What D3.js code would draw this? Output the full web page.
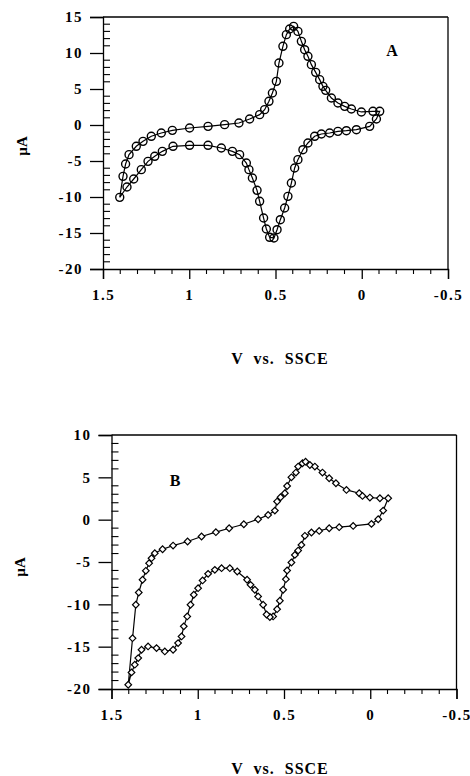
<!DOCTYPE html>
<html><head><meta charset="utf-8">
<script src="https://cdn.jsdelivr.net/npm/d3@7"></script>
<style>
body{margin:0;background:#fff;}
svg text{font-family:"Liberation Serif","Times New Roman",serif;fill:#000;}
</style></head>
<body><svg id="c" width="470" height="776"></svg>
<script>
// Panel A: potential (V) and current (µA), loop order
const potentialA = [1.403,1.384,1.369,1.349,1.307,1.268,1.220,1.162,1.098,0.998,0.891,0.795,0.712,0.650,0.592,0.563,0.538,0.518,0.495,0.480,0.457,0.437,0.418,0.395,0.370,0.350,0.331,0.312,0.292,0.267,0.244,0.225,0.209,0.176,0.138,0.099,0.060,0.002,-0.065,-0.104,
 -0.085,-0.046,0.031,0.089,0.138,0.186,0.234,0.273,0.312,0.341,0.370,0.389,0.408,0.428,0.447,0.472,0.491,0.509,0.534,0.553,0.569,0.592,0.607,0.634,0.654,0.669,0.708,0.750,0.814,0.891,0.998,1.094,1.156,1.200,1.239,1.278,1.322,1.361];
const currentA = [-10.05,-7.13,-5.42,-4.12,-2.96,-2.27,-1.57,-1.11,-0.74,-0.42,-0.19,0.05,0.28,0.83,1.44,2.13,3.29,4.44,6.06,8.61,10.93,12.55,13.33,13.70,13.0,11.62,10.46,9.54,8.38,7.31,6.30,5.37,4.81,3.75,3.06,2.59,2.22,1.81,1.90,1.90,
 0.83,-0.19,-0.65,-0.79,-0.88,-1.11,-1.25,-1.57,-2.5,-3.43,-4.81,-5.97,-8.06,-9.91,-11.53,-13.15,-14.54,-15.69,-15.6,-14.44,-12.92,-10.6,-9.07,-7.36,-6.2,-5.28,-4.12,-3.66,-3.19,-2.82,-2.82,-2.96,-3.66,-4.35,-5.05,-6.2,-7.5,-8.61];

// Panel B
const potentialB = [1.403,1.378,1.359,1.342,1.320,1.301,1.282,1.268,1.249,1.204,1.143,1.059,0.978,0.895,0.818,0.733,0.650,0.592,0.553,0.540,0.520,0.495,0.482,0.457,0.431,0.418,0.393,0.375,0.350,0.321,0.277,0.238,0.199,0.138,0.064,0.045,0.002,-0.056,-0.104,
 -0.075,-0.046,-0.007,0.099,0.180,0.238,0.296,0.341,0.379,0.399,0.418,0.437,0.457,0.482,0.489,0.505,0.524,0.540,0.563,0.582,0.601,0.621,0.650,0.669,0.694,0.714,0.771,0.814,0.862,0.901,0.940,0.972,0.998,1.023,1.042,1.061,1.081,1.094,1.114,1.143,1.191,1.239,1.288,1.326,1.345,1.365,1.384];
const currentB = [-19.5,-14.0,-10.05,-8.6,-7.1,-6.04,-5.14,-4.55,-3.96,-3.49,-3.06,-2.58,-1.99,-1.48,-1.01,-0.54,0.05,0.56,1.07,2.14,2.65,3.12,3.98,5.0,5.56,6.27,6.66,6.85,6.46,6.27,5.56,4.89,4.3,3.51,3.12,2.8,2.61,2.53,2.53,
 1.07,0.05,-0.5,-0.74,-0.89,-1.01,-1.33,-1.52,-1.91,-2.98,-3.65,-4.16,-5.06,-6.0,-7.03,-8.28,-9.58,-10.57,-11.43,-11.5,-11.2,-10.05,-9.07,-8.28,-7.7,-7.1,-6.12,-5.73,-5.73,-5.93,-6.4,-7.18,-8.09,-8.87,-10.05,-11.43,-12.6,-13.79,-14.58,-15.36,-15.56,-15.17,-14.97,-15.36,-16.35,-17.13,-18.04];

const xTicks = [1.5,1,0.5,0,-0.5];
const xTickLabels = ["1.5","1","0.5","0","-0.5"];
const yTicksA = [15,10,5,0,-5,-10,-15,-20];
const yTicksB = [10,5,0,-5,-10,-15,-20];
const xLabel = "V  vs.  SSCE";
const yLabel = "µA";

const svg = d3.select("#c");

function panel(opt){
  const g = svg.append("g");
  const x = d3.scaleLinear().domain([1.5,-0.5]).range([opt.x0,opt.x1]);
  const y = d3.scaleLinear().domain(opt.yDomain).range([opt.yb,opt.yt]);
  const sw = 1.3;
  // frame top & right
  g.append("line").attr("x1",opt.x0).attr("x2",opt.x1).attr("y1",opt.yt).attr("y2",opt.yt).attr("stroke","#000").attr("stroke-width",sw);
  g.append("line").attr("x1",opt.x1).attr("x2",opt.x1).attr("y1",opt.yt).attr("y2",opt.yb).attr("stroke","#000").attr("stroke-width",sw);
  // y axis: major outward, minor inward
  const yAx = d3.axisLeft(y).tickValues(opt.yTicks).tickSize(13).tickPadding(7).tickFormat(d=>String(d));
  const ya = g.append("g").attr("transform",`translate(${opt.x0},0)`).call(yAx);
  ya.select(".domain").attr("stroke-width",sw);
  ya.selectAll(".tick line").attr("stroke-width",sw);
  ya.selectAll("text").attr("font-size",15).attr("font-weight","bold").attr("letter-spacing","1.5px").attr("fill","#000").attr("font-family","Liberation Serif");
  const minorY = d3.range(opt.yDomain[0],opt.yDomain[1]+0.001,1).filter(v=>v%5!==0);
  g.selectAll(".my").data(minorY).enter().append("line")
    .attr("x1",opt.x0).attr("x2",opt.x0+7).attr("y1",d=>y(d)).attr("y2",d=>y(d)).attr("stroke","#000").attr("stroke-width",1.1);
  // x axis
  const xAx = d3.axisBottom(x).tickValues(xTicks).tickSize(10).tickPadding(10).tickFormat((d,i)=>xTickLabels[i]);
  const xa = g.append("g").attr("transform",`translate(0,${opt.yb})`).call(xAx);
  xa.select(".domain").attr("stroke-width",sw);
  xa.selectAll(".tick line").attr("stroke-width",sw);
  xa.selectAll("text").attr("font-size",15).attr("font-weight","bold").attr("letter-spacing","1.5px").attr("fill","#000").attr("font-family","Liberation Serif");
  const minorX = d3.range(-4,15).map(v=>v/10).filter(v=>Math.abs(v*2-Math.round(v*2))>1e-6);
  g.selectAll(".mx").data(minorX).enter().append("line")
    .attr("x1",d=>x(d)).attr("x2",d=>x(d)).attr("y1",opt.yb).attr("y2",opt.yb+5).attr("stroke","#000").attr("stroke-width",1.1);
  // data
  const pts = opt.px.map((v,i)=>[v,opt.py[i]]);
  const loop = pts.concat([pts[0]]);
  g.append("path").datum(loop).attr("fill","none").attr("stroke","#000").attr("stroke-width",1.2)
    .attr("d",d3.line().x(d=>x(d[0])).y(d=>y(d[1])));
  if(opt.marker==="circle"){
    g.selectAll(".pt").data(pts).enter().append("circle")
      .attr("cx",d=>x(d[0])).attr("cy",d=>y(d[1])).attr("r",4)
      .attr("fill","none").attr("stroke","#000").attr("stroke-width",1.4);
  } else {
    const sym = d3.symbol().type(d3.symbolSquare).size(22);
    g.selectAll(".pt").data(pts).enter().append("path")
      .attr("d",sym).attr("transform",d=>`translate(${x(d[0])},${y(d[1])}) rotate(45)`)
      .attr("fill","#fff").attr("stroke","#000").attr("stroke-width",1.2);
  }
  // labels
  g.append("text").attr("x",opt.lx).attr("y",opt.ly).attr("text-anchor","middle").attr("dominant-baseline","central")
    .attr("font-size",16).attr("font-weight","bold").text(opt.letter);
  g.append("text").attr("transform",`translate(${opt.ylx},${opt.yly}) rotate(-90)`).attr("text-anchor","middle").attr("dominant-baseline","central")
    .attr("font-size",15).attr("font-weight","bold").text(yLabel);
  g.append("text").attr("x",280).attr("y",opt.xlY).attr("text-anchor","middle")
    .attr("font-size",16).attr("font-weight","bold").attr("letter-spacing","1px").attr("xml:space","preserve").style("white-space","pre").text(xLabel);
}

panel({x0:103,x1:448,yt:17,yb:269,yDomain:[-20,15],yTicks:yTicksA,px:potentialA,py:currentA,marker:"circle",
  letter:"A",lx:392,ly:50,ylx:22,yly:146,xlY:364});
panel({x0:111.5,x1:456.5,yt:435,yb:689,yDomain:[-20,10],yTicks:yTicksB,px:potentialB,py:currentB,marker:"diamond",
  letter:"B",lx:175,ly:480,ylx:20,yly:567,xlY:774});
</script></body></html>
